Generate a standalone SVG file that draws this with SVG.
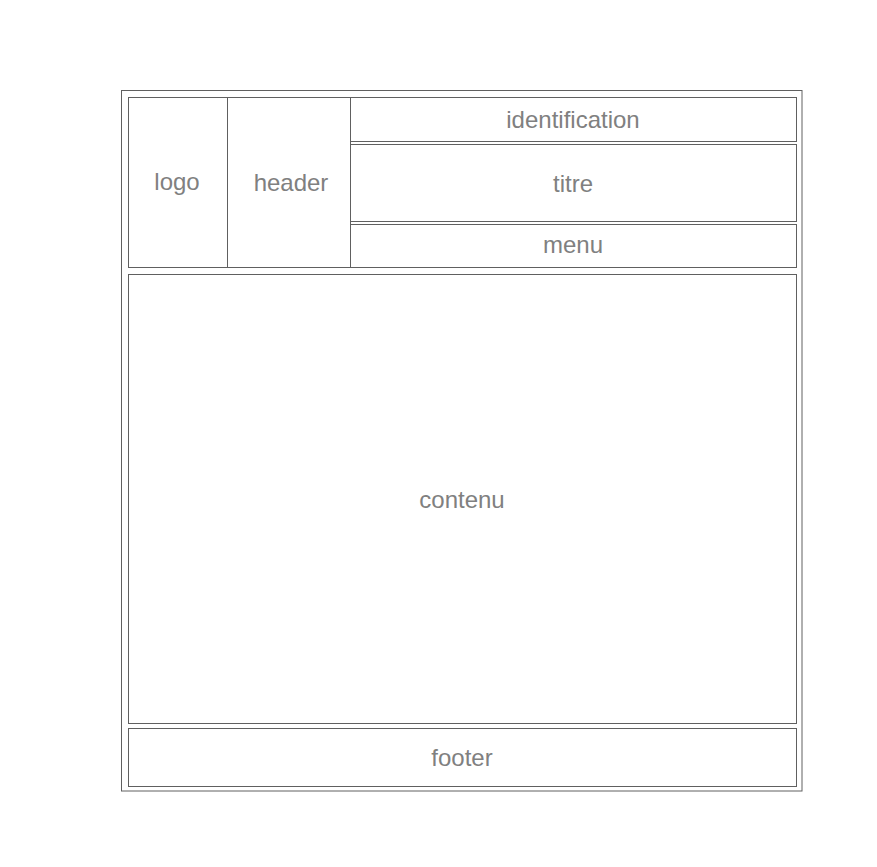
<svg xmlns="http://www.w3.org/2000/svg" width="877" height="867" viewBox="0 0 877 867">
<style>
.box{fill:none;stroke:#606060;stroke-width:1}
.lbl{font-family:"Liberation Sans",Arial,sans-serif;font-size:24px;fill:#808080;text-anchor:middle}
</style>
<rect width="877" height="867" fill="#ffffff"/>
<g id="page"><rect class="box" x="121.5" y="90.5" width="680.5" height="700.5"/></g>
<g id="logo"><rect class="box" x="128.5" y="97.5" width="99" height="170"/><text class="lbl" x="177" y="190">logo</text></g>
<g id="header"><rect class="box" x="227.5" y="97.5" width="123" height="170"/><text class="lbl" x="291" y="191">header</text></g>
<g id="identification"><rect class="box" x="350.5" y="97.5" width="446" height="44"/><text class="lbl" x="573" y="128">identification</text></g>
<g id="titre"><rect class="box" x="350.5" y="144.5" width="446" height="77"/><text class="lbl" x="573" y="192">titre</text></g>
<g id="menu"><rect class="box" x="350.5" y="224.5" width="446" height="43"/><text class="lbl" x="573" y="253">menu</text></g>
<g id="contenu"><rect class="box" x="128.5" y="274.5" width="668" height="449"/><text class="lbl" x="462" y="508">contenu</text></g>
<g id="footer"><rect class="box" x="128.5" y="728.5" width="668" height="58"/><text class="lbl" x="462" y="766">footer</text></g>
<g id="connectors"></g>
</svg>
